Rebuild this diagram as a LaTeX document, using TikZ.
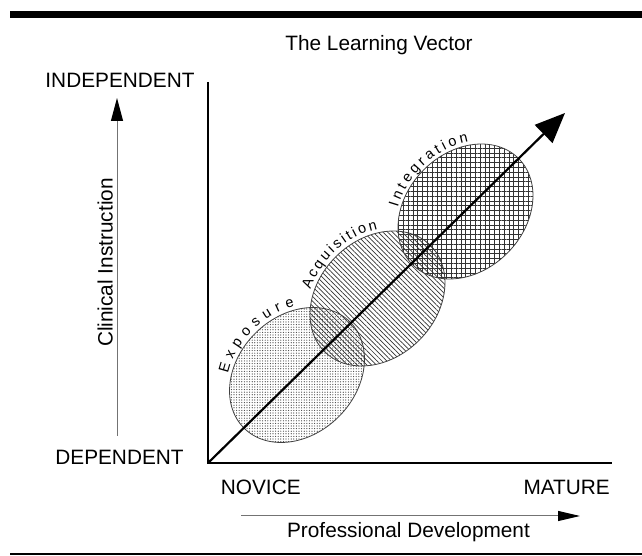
\documentclass[tikz,border=0pt]{standalone}
\usepackage{fontspec}
\setmainfont{Liberation Sans}
\usetikzlibrary{arrows.meta,patterns.meta,decorations.text}

\begin{document}
\begin{tikzpicture}[x=1pt,y=1pt,
        lbl/.style={inner sep=0pt, font=\fontsize{20.8}{24}\selectfont},
        zone/.style={draw=black!75, line width=0.8pt},
        zonetext/.style={decorate, decoration={text along path, text align=fit to path, text={|\fontsize{14.5}{17}\selectfont|#1}}}]
            \useasboundingbox (0,0) rectangle (642,556);
            \fill (10,537.6) rectangle (642,544.5);
            \draw[line width=1.5pt] (10,2) -- (642,2);
            \node[lbl, anchor=base] (title) at (379,505) {The Learning Vector};
            \node[lbl, anchor=base] (indep) at (120,468.7) {INDEPENDENT};
            \node[lbl, anchor=base] (dep) at (119.5,91) {DEPENDENT};
            \node[lbl, anchor=base west] (novice) at (220.7,61.7) {NOVICE};
            \node[lbl, anchor=base east] (mature) at (610,61.7) {MATURE};
            \node[lbl, anchor=base] (profdev) at (408.5,18.3) {Professional Development};
            \node[lbl, anchor=base, rotate=90] (clinical) at (112.7,293.5) {Clinical Instruction};
            \coordinate (origin) at (208,93);
            \coordinate (ytop) at (208,474);
            \coordinate (xend) at (612,93);
            \coordinate (vtip) at (565,443);
            \coordinate (expo) at (297,181);
            \coordinate (acq) at (377.5,257.5);
            \coordinate (integ) at (465.5,344.5);
            \coordinate (upfrom) at (117,120);
            \coordinate (upto) at (117,458);
            \coordinate (devfrom) at (241,40);
            \coordinate (devto) at (580,40);
            \draw[zone, pattern={Dots[distance=2.6pt, radius=0.6pt]}, pattern color=black!75, rotate around={45:(expo)}] (expo) ellipse [x radius=75, y radius=59];
            \draw[zone, pattern={Lines[angle=-45, distance=3.4pt, line width=0.7pt]}, pattern color=black!80, rotate around={45:(acq)}] (acq) ellipse [x radius=75, y radius=59];
            \draw[zone, pattern={Hatch[angle=0, distance=4.8pt, line width=0.5pt]}, pattern color=black!80, rotate around={45:(integ)}] (integ) ellipse [x radius=75, y radius=59];
            \begin{scope}[shift={(expo)}, rotate=45]
                \path[zonetext=Exposure] (128:78 and 63) arc[start angle=128, end angle=53, x radius=78, y radius=63];
            \end{scope}
            \begin{scope}[shift={(acq)}, rotate=45]
                \path[zonetext=Acquisition] (122:78 and 63) arc[start angle=122, end angle=51, x radius=78, y radius=63];
            \end{scope}
            \begin{scope}[shift={(integ)}, rotate=45]
                \path[zonetext=Integration] (125:78 and 62) arc[start angle=125, end angle=49, x radius=78, y radius=62];
            \end{scope}
            \draw[line width=1.5pt] (ytop) -- (origin) -- (xend);
            \draw[line width=2.2pt, -{Triangle[length=30pt, width=25pt]}] (origin) -- (vtip);
            \draw[black!55, line width=1pt, -{Triangle[length=23pt, width=12pt, black]}] (upfrom) -- (upto);
            \draw[black!55, line width=1pt, -{Triangle[length=22pt, width=10pt, black]}] (devfrom) -- (devto);
\end{tikzpicture}
\end{document}
